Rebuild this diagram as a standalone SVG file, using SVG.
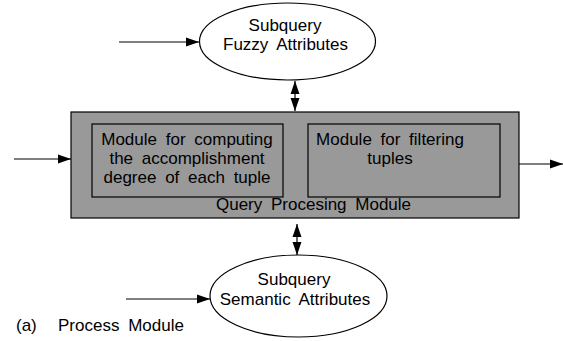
<svg xmlns="http://www.w3.org/2000/svg" width="563" height="341" viewBox="0 0 563 341">
<style>
text{font-family:"Liberation Sans",Arial,sans-serif;font-size:17px;word-spacing:4px;fill:#000}
.c{text-anchor:middle}
.sh{stroke:#000;stroke-width:1.2;fill:#999}
.el{stroke:#000;stroke-width:1.2;fill:#fff}
.ln{stroke:#000;stroke-width:1.2;fill:none}
</style>
<defs>
<marker id="ah" markerUnits="userSpaceOnUse" markerWidth="14" markerHeight="10" refX="13" refY="5" orient="auto">
<path d="M0,0.5 L13,5 L0,9.5 Z" fill="#000"/>
</marker>
<marker id="as" markerUnits="userSpaceOnUse" markerWidth="14" markerHeight="10" refX="1" refY="5" orient="auto">
<path d="M14,0.5 L1,5 L14,9.5 Z" fill="#000"/>
</marker>
</defs>
<g id="query-processing-module">
<rect class="sh" x="71" y="112" width="448" height="106"/>
<text class="c" x="313.5" y="210">Query Procesing Module</text>
</g>
<g id="module-computing">
<rect class="sh" x="92" y="124" width="191" height="73"/>
<text class="c" x="187" y="145">Module for computing</text>
<text class="c" x="187" y="164">the accomplishment</text>
<text class="c" x="187" y="183">degree of each tuple</text>
</g>
<g id="module-filtering">
<rect class="sh" x="308" y="124" width="192" height="73"/>
<text class="c" x="390" y="145">Module for filtering</text>
<text class="c" x="390" y="164">tuples</text>
</g>
<g id="subquery-fuzzy">
<ellipse class="el" cx="287.5" cy="41.5" rx="88" ry="38.5"/>
<text class="c" x="285" y="31">Subquery</text>
<text class="c" x="285.5" y="50">Fuzzy Attributes</text>
</g>
<g id="subquery-semantic">
<ellipse class="el" cx="298.5" cy="296" rx="88.5" ry="41"/>
<text class="c" x="294" y="285">Subquery</text>
<text class="c" x="295" y="305">Semantic Attributes</text>
</g>
<g id="connectors">
<line class="ln" x1="119" y1="42" x2="199" y2="42" marker-end="url(#ah)"/>
<line class="ln" x1="14" y1="159" x2="71" y2="159" marker-end="url(#ah)"/>
<line class="ln" x1="519" y1="164" x2="563" y2="164" marker-end="url(#ah)"/>
<line class="ln" x1="126" y1="299" x2="210" y2="299" marker-end="url(#ah)"/>
<line class="ln" x1="295" y1="81" x2="295" y2="111" marker-start="url(#as)" marker-end="url(#ah)"/>
<line class="ln" x1="297" y1="224" x2="297" y2="255" marker-start="url(#as)" marker-end="url(#ah)"/>
</g>
<g id="caption">
<text x="16" y="331">(a)</text>
<text x="58" y="331">Process Module</text>
</g>
</svg>
